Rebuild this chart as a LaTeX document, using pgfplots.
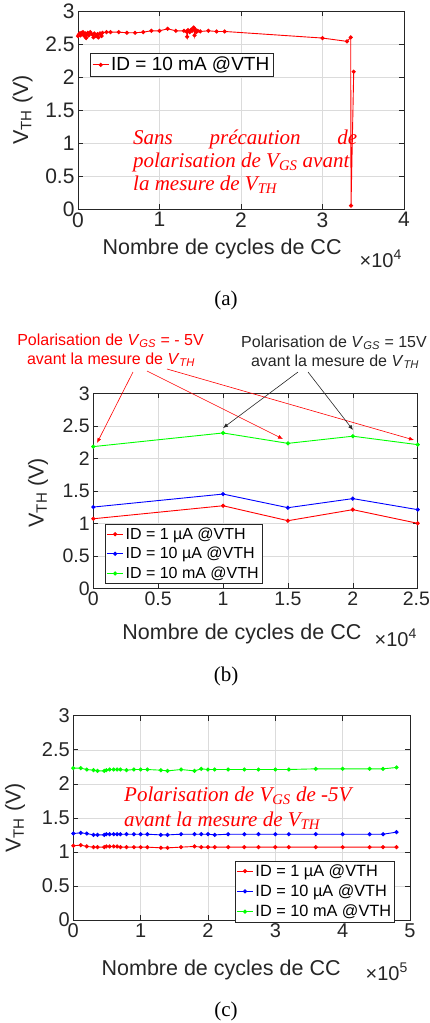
\documentclass[border=0pt]{standalone}
\usepackage{pgfplots}
\pgfplotsset{compat=1.18}
\usepackage{fontspec}
\setmainfont{Liberation Sans}
\newfontfamily\tnr{Liberation Serif}
\usetikzlibrary{arrows.meta}

\definecolor{axgray}{gray}{0.15}
\definecolor{gridgray}{gray}{0.86}

\pgfplotsset{
  matlab/.style={
    scale only axis,
    axis line style={axgray, line width=0.6pt},
    tick style={axgray, line width=0.6pt},
    tick align=inside,
    major tick length=5pt,
    grid=major,
    grid style={gridgray, line width=0.5pt},
    ticklabel style={font=\fontsize{21}{21}\selectfont, text=axgray},
    label style={font=\fontsize{21.5}{21.5}\selectfont, text=axgray},
    scaled ticks=false,
    ymin=0, ymax=3, ytick={0,0.5,1,1.5,2,2.5,3},
    yticklabels={0,0.5,1,1.5,2,2.5,3},
    ylabel={V\textsubscript{TH} (V)},
    xlabel={Nombre de cycles de CC},
    legend cell align=left,
    legend image code/.code={\draw[mark repeat=2,mark phase=2,##1] plot coordinates {(0pt,0pt)(8pt,0pt)(16pt,0pt)};},
  },
  pr/.style={line width=0.9pt, mark=*, mark size=1.6pt},
}
\tikzset{scl/.style={anchor=east, inner sep=0pt, font=\fontsize{20}{20}\selectfont, text=axgray}}

\begin{document}
\begin{tikzpicture}
\path[use as bounding box] (0,0) rectangle (430pt,-1023pt);

% ---------- (a)
\begin{axis}[matlab,
  at={(78pt,-209pt)}, anchor=south west,
  width=326pt, height=198pt,
  xmin=0, xmax=40000, xtick={0,10000,20000,30000,40000},
  xticklabels={0,1,2,3,4},
  xlabel style={at={(axis description cs:0.442,-0.232)}, anchor=base},
  ylabel style={at={(axis description cs:-0.17,0.5)}, anchor=center},
  legend style={at={(axis description cs:0.037,0.788)}, anchor=north west, font=\fontsize{19}{19}\selectfont, draw=axgray, inner sep=2pt},
]
\addplot[pr, red] coordinates {
(0,2.62) (100,2.64) (200,2.66) (300,2.63) (400,2.67) (500,2.65) (600,2.68)
(700,2.64) (800,2.62) (900,2.66) (1000,2.59) (1100,2.65) (1200,2.67)
(1300,2.63) (1500,2.68) (1700,2.65) (1900,2.60) (2000,2.66) (2200,2.62)
(2400,2.65) (2500,2.60) (2700,2.66) (2900,2.62) (3000,2.67) (3500,2.68)
(4000,2.68) (5000,2.68) (6000,2.67) (7000,2.67) (8000,2.68) (9000,2.70)
(10000,2.70) (11000,2.73) (12000,2.70) (13000,2.70) (13300,2.69)
(13400,2.61) (13500,2.71) (13700,2.68) (13900,2.72) (14000,2.70)
(14200,2.75) (14300,2.63) (14400,2.72) (14500,2.68) (14700,2.70)
(15000,2.69) (16000,2.70) (17000,2.69) (18000,2.69) (30000,2.59)
(33000,2.54) (33460,2.60) (33500,0.05) (33830,2.08)
};
\legend{ID = 10 mA @VTH}
\end{axis}

% ---------- (b)
\begin{axis}[matlab,
  at={(93.3pt,-588.3pt)}, anchor=south west,
  width=324.4pt, height=195pt,
  xmin=0, xmax=25000, xtick={0,5000,10000,15000,20000,25000},
  xticklabels={0,0.5,1,1.5,2,\hspace*{-2.5pt}2.5},
  ticklabel style={font=\fontsize{19.5}{19.5}\selectfont},
  xlabel style={at={(axis description cs:0.458,-0.265)}, anchor=base},
  ylabel style={at={(axis description cs:-0.17,0.49)}, anchor=center},
  legend style={at={(axis description cs:0.036,0.33)}, anchor=north west, font=\fontsize{16}{16}\selectfont, draw=axgray, inner sep=1.5pt, row sep=2.5pt},
]
\addplot[pr, red] coordinates {(0,1.07) (10000,1.27) (15000,1.04) (20000,1.21) (25000,1.00)};
\addplot[pr, blue] coordinates {(0,1.25) (10000,1.45) (15000,1.24) (20000,1.38) (25000,1.21)};
\addplot[pr, green] coordinates {(0,2.18) (10000,2.39) (15000,2.23) (20000,2.34) (25000,2.21)};
\legend{ID = 1 µA @VTH, ID = 10 µA @VTH, ID = 10 mA @VTH}
\end{axis}

% ---------- (c)
\begin{axis}[matlab,
  at={(73.3pt,-920pt)}, anchor=south west,
  width=336.7pt, height=204.3pt,
  xmin=0, xmax=500000, xtick={0,100000,200000,300000,400000,500000},
  xticklabels={0,1,2,3,4,5},
  ticklabel style={font=\fontsize{20}{20}\selectfont},
  xlabel style={at={(axis description cs:0.439,-0.274)}, anchor=base},
  ylabel style={at={(axis description cs:-0.173,0.5)}, anchor=center},
  legend style={at={(axis description cs:0.955,-0.01)}, anchor=south east, font=\fontsize{16.3}{16.3}\selectfont, draw=axgray, inner sep=1.5pt, row sep=3pt},
]
\addplot[pr, red] coordinates {
(0,1.09) (11000,1.10) (20000,1.08) (30000,1.07) (36000,1.07) (46000,1.07)
(49000,1.08) (54000,1.08) (60000,1.08) (65000,1.08) (70000,1.07) (79000,1.07)
(90000,1.07) (100000,1.07) (110000,1.07) (130000,1.06) (140000,1.06)
(160000,1.07) (180000,1.08) (190000,1.07) (200000,1.07) (210000,1.07)
(230000,1.07) (254000,1.07) (275000,1.07) (300000,1.07) (320000,1.07)
(360000,1.07) (400000,1.07) (440000,1.07) (460000,1.07) (480000,1.07)
};
\addplot[pr, blue] coordinates {
(0,1.27) (11000,1.28) (20000,1.27) (30000,1.25) (36000,1.25) (46000,1.25)
(49000,1.26) (54000,1.26) (60000,1.26) (65000,1.26) (70000,1.26) (79000,1.26)
(90000,1.26) (100000,1.26) (110000,1.26) (130000,1.25) (140000,1.25)
(160000,1.26) (180000,1.26) (190000,1.26) (200000,1.26) (210000,1.25)
(230000,1.26) (254000,1.26) (275000,1.26) (300000,1.26) (320000,1.26)
(360000,1.26) (400000,1.26) (440000,1.26) (460000,1.26) (480000,1.29)
};
\addplot[pr, green] coordinates {
(0,2.23) (11000,2.23) (20000,2.21) (30000,2.20) (36000,2.19) (46000,2.19)
(49000,2.20) (54000,2.21) (60000,2.21) (65000,2.21) (70000,2.21) (79000,2.20)
(90000,2.21) (100000,2.21) (110000,2.21) (130000,2.20) (140000,2.19)
(160000,2.21) (180000,2.19) (190000,2.22) (200000,2.21) (210000,2.21)
(230000,2.21) (254000,2.21) (275000,2.21) (300000,2.21) (320000,2.21)
(360000,2.22) (400000,2.22) (440000,2.22) (460000,2.22) (480000,2.24)
};
\legend{ID = 1 µA @VTH, ID = 10 µA @VTH, ID = 10 mA @VTH}
\end{axis}

% ---------- annotations
\begin{scope}[x=1pt, y=-1pt]
% scale labels of the x axes
\node[scl] at (402,259) {×10\textsuperscript{4}};
\node[scl] at (417,638) {×10\textsuperscript{4}};
\node[scl] at (408,972) {×10\textsuperscript{5}};

% (a)
\begin{scope}[every node/.style={anchor=base west, red, inner sep=0pt, font=\tnr\itshape\fontsize{21}{23}\selectfont}]
\node at (133,144) {\hbox to 224pt{Sans\hfill précaution\hfill de}};
\node at (133,167) {polarisation de V\textsubscript{GS} avant};
\node at (133,190) {la mesure de V\textsubscript{TH}};
\end{scope}
\node[anchor=center, inner sep=0pt, font=\tnr\fontsize{21}{21}\selectfont] at (226,300) {(a)};

% (b)
\begin{scope}[every node/.style={anchor=base, inner sep=0pt, font=\fontsize{16}{16}\selectfont}]
\node[red] at (110.5,345) {Polarisation de \textit{V}\textsubscript{\textit{GS}} = - 5V};
\node[red] at (111,364) {avant la mesure de \textit{V}\textsubscript{\textit{TH}}};
\node[axgray] at (334,347) {Polarisation de \textit{V}\textsubscript{\textit{GS}} = 15V};
\node[axgray] at (335,366) {avant la mesure de \textit{V}\textsubscript{\textit{TH}}};
\end{scope}
\begin{scope}[line width=0.6pt, -{Latex[length=5pt,width=4pt]}]
\draw[red] (133,372) -- (97,443);
\draw[red] (147,371) -- (283,439);
\draw[red] (167,369) -- (414,440);
\draw[axgray] (298,372) -- (223,428);
\draw[axgray] (308,372) -- (353,430);
\end{scope}
\node[anchor=center, inner sep=0pt, font=\tnr\fontsize{21}{21}\selectfont] at (226,676.7) {(b)};

% (c)
\begin{scope}[every node/.style={anchor=base west, red, inner sep=0pt, font=\tnr\itshape\fontsize{21}{23}\selectfont}]
\node at (124,801) {Polarisation de V\textsubscript{GS} de -5V};
\node at (124,826) {avant la mesure de V\textsubscript{TH}};
\end{scope}
\node[anchor=center, inner sep=0pt, font=\tnr\fontsize{21}{21}\selectfont] at (226,1011.7) {(c)};
\end{scope}
\end{tikzpicture}
\end{document}
